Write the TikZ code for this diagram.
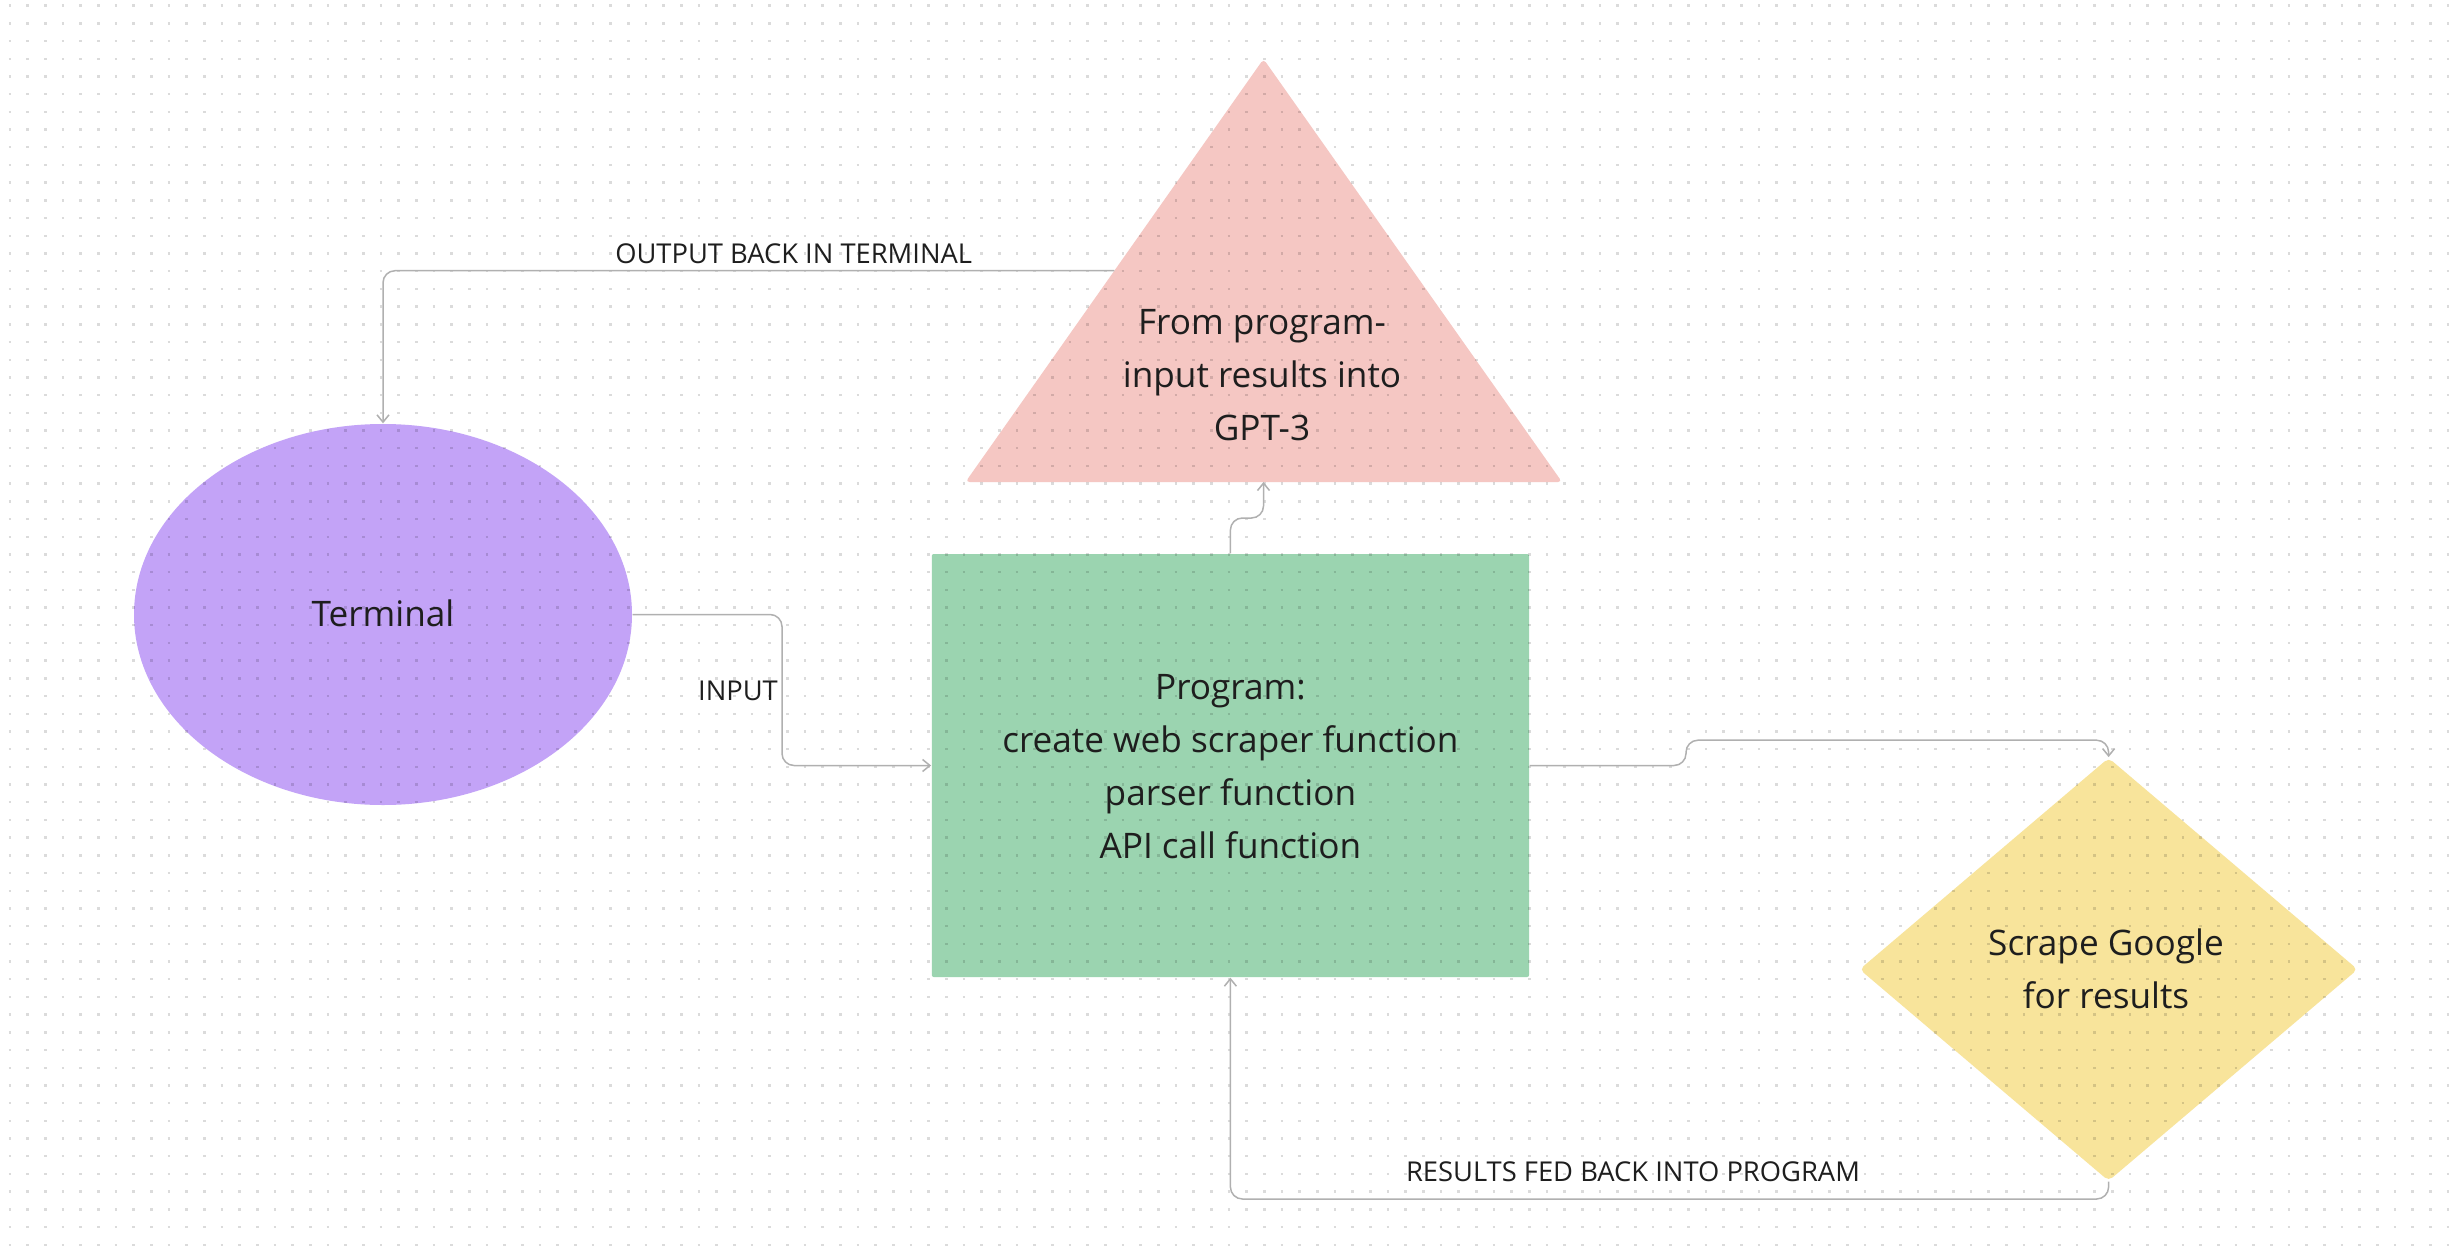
\documentclass[tikz,border=0pt]{standalone}
\usepackage{fontspec}
\setmainfont{Open Sans}
\usetikzlibrary{arrows.meta,shapes.geometric,calc}
\definecolor{triC}{HTML}{F5C7C3}
\definecolor{recC}{HTML}{9BD4B0}
\definecolor{ellC}{HTML}{C3A3F7}
\definecolor{diaC}{HTML}{F8E49B}
\definecolor{lineC}{HTML}{B0B0B0}
\definecolor{txtC}{HTML}{1E1E1E}
\begin{document}
\begin{tikzpicture}[x=0.3pt,y=-0.3pt,
  conn/.style={draw=lineC, line width=0.45pt, rounded corners=3.6pt, -{Straight Barb[length=2.2pt,width=3.6pt]}},
  lbl/.style={font=\fontsize{8.2pt}{10pt}\selectfont, text=txtC, inner sep=0pt, anchor=base},
  body/.style={font=\fontsize{10.55pt}{15.9pt}\selectfont, text=txtC, align=center, inner sep=0pt, anchor=base},
  shapebox/.style={inner sep=0pt, draw=none}
]
\useasboundingbox (0,0) rectangle (2451,1252);
\fill[white] (0,0) rectangle (2451,1252);

% shapes
\node[shapebox, ellipse, fill=ellC, minimum width=498*0.3pt, minimum height=381*0.3pt] (term) at (383,614.5) {};
\node[shapebox, rectangle, fill=recC, minimum width=597.3*0.3pt, minimum height=423*0.3pt, rounded corners=0.6pt] (prog) at (1230.4,765.5) {};
\node[shapebox, diamond, fill=diaC, minimum width=498.4*0.3pt, minimum height=423.3*0.3pt, rounded corners=1.5pt] (scrape) at (2108.6,969.4) {};
\coordinate (gA) at (1263.5,59);
\coordinate (gB) at (965.5,482);
\coordinate (gC) at (1562,482);
\fill[triC, rounded corners=1.2pt] (gA) -- (gB) -- (gC) -- cycle;
\coordinate (gbase) at (1263.5,482);
\coordinate (gleft) at ($(gB)!0.4995!(gA)$);

% dot grid
\foreach \k in {0,...,70} {
  \draw[black, opacity=0.14, line width=0.72pt, dash pattern=on 0.72pt off 4.58pt]
    (8.8,{5.7+17.7*\k}) -- (2451,{5.7+17.7*\k});
}

% connectors
\draw[conn] (gleft) -| (term.north);
\draw[conn] (term.east) -- (782,614.5) |- (prog.west);
\draw[conn] (prog.north) -- (1230.4,518) -- (1263.5,518) -- (gbase);
\draw[conn] (prog.east) -- (1686,765.5) -- (1686,740.2) -- (2108.6,740.2) -- (scrape.north);
\draw[conn] (scrape.south) -- (2108.6,1199) -| (prog.south);

% labels
\node[lbl] (lout) at (793.7,263.5) {OUTPUT BACK IN TERMINAL};
\node[lbl] (lin) at (738,700.6) {INPUT};
\node[lbl] (lres) at (1633,1181.7) {RESULTS FED BACK INTO PROGRAM};

% texts (anchor=base is the baseline of the last line)
\node[body] (tterm) at (383,626.7) {Terminal};
\node[body] (tgpt) at (1262,440) {From program-\\input results into\\GPT-3};
\node[body] (tprog) at (1230.4,858.4) {Program:\\create web scraper function\\parser function\\API call function};
\node[body] (tscr) at (2106,1008.6) {Scrape Google\\for results};
\end{tikzpicture}
\end{document}
